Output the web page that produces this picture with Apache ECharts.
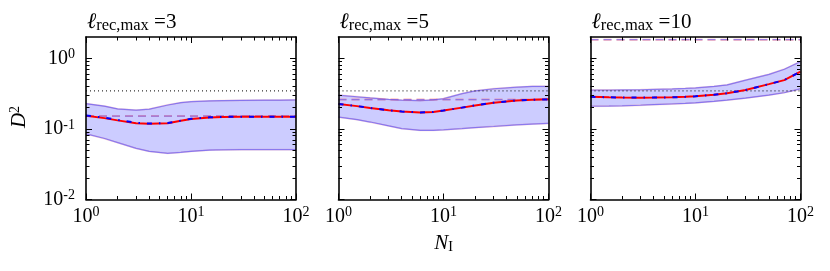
<!DOCTYPE html>
<html><head><meta charset="utf-8">
<script src="https://cdn.jsdelivr.net/npm/echarts@6/dist/echarts.min.js"></script>
<style>html,body{margin:0;padding:0;background:#fff}#c{width:830px;height:271px}</style>
</head><body><div id="c"></div>
<script>
// ---- data ----
const xs = [1, 1.5, 2, 3, 4, 6, 8, 10, 15, 20, 30, 50, 70, 100];
const panelTitles = ['3', '5', '10'];

const p1Upper = [0.228, 0.21, 0.192, 0.184, 0.19, 0.218, 0.236, 0.243, 0.25, 0.252, 0.254, 0.256, 0.256, 0.257];
const p1Lower = [0.085, 0.073, 0.064, 0.053, 0.048, 0.045, 0.0465, 0.048, 0.050, 0.0505, 0.051, 0.051, 0.051, 0.051];
const p1Red   = [0.153, 0.142, 0.132, 0.12, 0.118, 0.12, 0.13, 0.138, 0.145, 0.147, 0.148, 0.148, 0.148, 0.148];
const p1Blue  = [0.155, 0.144, 0.134, 0.122, 0.119, 0.121, 0.131, 0.139, 0.146, 0.148, 0.149, 0.149, 0.149, 0.149];
const p1Dashed = 0.152;
const p1Dotted = 0.345;

const p2Upper = [0.30, 0.285, 0.275, 0.262, 0.255, 0.252, 0.258, 0.268, 0.315, 0.345, 0.37, 0.39, 0.40, 0.40];
const p2Lower = [0.147, 0.135, 0.125, 0.11, 0.101, 0.095, 0.095, 0.097, 0.101, 0.104, 0.108, 0.114, 0.117, 0.12];
const p2Red   = [0.225, 0.21, 0.198, 0.183, 0.176, 0.171, 0.174, 0.182, 0.2, 0.215, 0.235, 0.252, 0.258, 0.262];
const p2Blue  = [0.225, 0.21, 0.198, 0.183, 0.176, 0.171, 0.174, 0.182, 0.2, 0.215, 0.235, 0.252, 0.258, 0.262];
const p2Dashed = 0.26;
const p2Dotted = 0.345;

const p3Upper = [0.355, 0.355, 0.356, 0.358, 0.362, 0.368, 0.374, 0.38, 0.40, 0.42, 0.49, 0.59, 0.70, 0.90];
const p3Lower = [0.209, 0.21, 0.212, 0.216, 0.22, 0.225, 0.229, 0.233, 0.245, 0.255, 0.272, 0.30, 0.325, 0.369];
const p3Red   = [0.285, 0.28, 0.278, 0.277, 0.278, 0.28, 0.284, 0.29, 0.305, 0.32, 0.355, 0.43, 0.49, 0.645];
const p3Blue  = [0.285, 0.28, 0.278, 0.277, 0.278, 0.28, 0.284, 0.29, 0.305, 0.32, 0.355, 0.43, 0.49, 0.645];
const p3Dashed = 1.83;
const p3Dotted = 0.345;

const xMajorTicks = [1, 10, 100];
const xMinorTicks = [2, 3, 4, 5, 6, 7, 8, 9, 20, 30, 40, 50, 60, 70, 80, 90];
const yMajorTicks = [0.01, 0.1, 1];
const yMinorTicks = [0.02, 0.03, 0.04, 0.05, 0.06, 0.07, 0.08, 0.09, 0.2, 0.3, 0.4, 0.5, 0.6, 0.7, 0.8, 0.9];
const xRange = [1, 100];
const yRange = [0.01, 2];

// ---- build ----
const panels = [
  {upper: p1Upper, lower: p1Lower, red: p1Red, blue: p1Blue, dashed: p1Dashed, dotted: p1Dotted},
  {upper: p2Upper, lower: p2Lower, red: p2Red, blue: p2Blue, dashed: p2Dashed, dotted: p2Dotted},
  {upper: p3Upper, lower: p3Lower, red: p3Red, blue: p3Blue, dashed: p3Dashed, dotted: p3Dotted}
];
const FONT = "'Liberation Serif', serif";
const lefts = [86, 338.5, 590.5];
const W = 210, TOP = 37, H = 162.5;

const tickRich = {
  b: {fontFamily: FONT, fontSize: 20, lineHeight: 22, color: '#000'},
  s: {fontFamily: FONT, fontSize: 14, lineHeight: 12, verticalAlign: 'top', color: '#000'}
};
function fmt(v) {
  const e = Math.round(Math.log10(v));
  return '{b|10}{s|' + (e < 0 ? '-' + (-e) : e) + '}';
}

const grids = [], xAxes = [], yAxes = [], series = [];
const axisLineStyle = {color: '#000', width: 1.6};
const tickStyle = {color: '#000', width: 1};

panels.forEach((p, g) => {
  grids.push({left: lefts[g], top: TOP, width: W, height: H});
  const xBase = {gridIndex: g, type: 'log', logBase: 10, min: xRange[0], max: xRange[1], splitLine: {show: false}, z: 5};
  const yBase = {gridIndex: g, type: 'log', logBase: 10, min: yRange[0], max: yRange[1], splitLine: {show: false}, z: 5};
  const xi = xAxes.length, yi = yAxes.length;
  xAxes.push(Object.assign({}, xBase, {position: 'bottom',
    axisLine: {show: true, onZero: false, lineStyle: axisLineStyle},
    axisTick: {show: true, inside: true, length: 6, lineStyle: tickStyle, customValues: xMajorTicks},
    axisLabel: {show: true, customValues: xMajorTicks, formatter: fmt, rich: tickRich, margin: 6}}));
  xAxes.push(Object.assign({}, xBase, {position: 'bottom',
    axisLine: {show: false, onZero: false},
    axisTick: {show: true, inside: true, length: 3.5, lineStyle: tickStyle, customValues: xMinorTicks},
    axisLabel: {show: false}}));
  xAxes.push(Object.assign({}, xBase, {position: 'top',
    axisLine: {show: true, onZero: false, lineStyle: axisLineStyle},
    axisTick: {show: true, inside: true, length: 6, lineStyle: tickStyle, customValues: xMajorTicks},
    axisLabel: {show: false}}));
  xAxes.push(Object.assign({}, xBase, {position: 'top',
    axisLine: {show: false, onZero: false},
    axisTick: {show: true, inside: true, length: 3.5, lineStyle: tickStyle, customValues: xMinorTicks},
    axisLabel: {show: false}}));
  yAxes.push(Object.assign({}, yBase, {position: 'left',
    axisLine: {show: true, onZero: false, lineStyle: axisLineStyle},
    axisTick: {show: true, inside: true, length: 6, lineStyle: tickStyle, customValues: yMajorTicks},
    axisLabel: {show: g === 0, customValues: yMajorTicks, formatter: fmt, rich: tickRich, margin: 11}}));
  yAxes.push(Object.assign({}, yBase, {position: 'left',
    axisLine: {show: false, onZero: false},
    axisTick: {show: true, inside: true, length: 3.5, lineStyle: tickStyle, customValues: yMinorTicks},
    axisLabel: {show: false}}));
  yAxes.push(Object.assign({}, yBase, {position: 'right',
    axisLine: {show: true, onZero: false, lineStyle: axisLineStyle},
    axisTick: {show: true, inside: true, length: 6, lineStyle: tickStyle, customValues: yMajorTicks},
    axisLabel: {show: false}}));
  yAxes.push(Object.assign({}, yBase, {position: 'right',
    axisLine: {show: false, onZero: false},
    axisTick: {show: true, inside: true, length: 3.5, lineStyle: tickStyle, customValues: yMinorTicks},
    axisLabel: {show: false}}));

  const common = {type: 'line', xAxisIndex: xi, yAxisIndex: yi, showSymbol: false, symbol: 'none', silent: true, smooth: false, animation: false};
  const pts = arr => xs.map((x, i) => [x, arr[i]]);
  const flat = v => [[xRange[0], v], [xRange[1], v]];
  series.push({type: 'custom', coordinateSystem: 'cartesian2d', xAxisIndex: xi, yAxisIndex: yi, silent: true,
    data: xs.map((x, i) => [x, p.lower[i], p.upper[i]]), encode: {x: 0, y: [1, 2]},
    renderItem: function (params, api) {
      if (params.dataIndex !== 0) return null;
      const top = xs.map((x, i) => api.coord([x, p.upper[i]]));
      const bot = xs.map((x, i) => api.coord([x, p.lower[i]])).reverse();
      return {type: 'polygon', shape: {points: top.concat(bot)}, style: {fill: 'rgba(0,0,255,0.2)', stroke: null}};
    }});
  [p.upper, p.lower].forEach(arr => {
    series.push(Object.assign({}, common, {data: pts(arr), lineStyle: {color: 'rgba(255,0,0,0.15)', width: 1.8}}));
    series.push(Object.assign({}, common, {data: pts(arr), lineStyle: {color: 'rgba(60,60,255,0.55)', width: 1.2}}));
  });
  series.push(Object.assign({}, common, {data: flat(p.dotted), lineStyle: {color: '#000', width: 1, type: [1, 3]}}));
  series.push(Object.assign({}, common, {data: flat(p.dashed), lineStyle: {color: 'rgba(255,100,100,0.5)', width: 2, type: [8, 5]}}));
  series.push(Object.assign({}, common, {data: flat(p.dashed), lineStyle: {color: 'rgba(90,90,255,0.6)', width: 1.2, type: [8, 5]}}));
  series.push(Object.assign({}, common, {data: pts(p.red), lineStyle: {color: '#ff0000', width: 2}}));
  series.push(Object.assign({}, common, {data: pts(p.blue), lineStyle: {color: '#0000ff', width: 2, type: [5, 7, 1.5, 7]}}));
});

const titleRich = {
  l: {fontFamily: FONT, fontStyle: 'italic', fontSize: 22, lineHeight: 24, color: '#000'},
  sub: {fontFamily: FONT, fontSize: 16.5, lineHeight: 15, verticalAlign: 'bottom', color: '#000'},
  m: {fontFamily: FONT, fontSize: 21, lineHeight: 24, color: '#000'}
};
const graphics = panelTitles.map((t, g) => ({
  type: 'text', x: lefts[g] + 1, y: 10, silent: true,
  style: {text: '{l|ℓ}{sub|rec,max}{m| =' + t + '}', rich: titleRich, align: 'left', verticalAlign: 'top'}
}));
graphics.push({type: 'text', x: 19, y: 117, rotation: Math.PI / 2, silent: true,
  style: {text: '{d|D}{s|2}', align: 'center', verticalAlign: 'middle',
    rich: {d: {fontFamily: FONT, fontStyle: 'italic', fontSize: 21, lineHeight: 22, color: '#000'},
           s: {fontFamily: FONT, fontSize: 14, lineHeight: 12, verticalAlign: 'top', color: '#000'}}}});
graphics.push({type: 'text', x: lefts[1] + W / 2, y: 243, silent: true,
  style: {text: '{n|N}{s|I}', align: 'center', verticalAlign: 'middle',
    rich: {n: {fontFamily: FONT, fontStyle: 'italic', fontSize: 21, lineHeight: 22, color: '#000'},
           s: {fontFamily: FONT, fontSize: 14, lineHeight: 12, verticalAlign: 'bottom', color: '#000'}}}});

const chart = echarts.init(document.getElementById('c'), null, {renderer: 'canvas'});
chart.setOption({animation: false, backgroundColor: '#fff', grid: grids, xAxis: xAxes, yAxis: yAxes, series: series, graphic: graphics});
</script></body></html>
